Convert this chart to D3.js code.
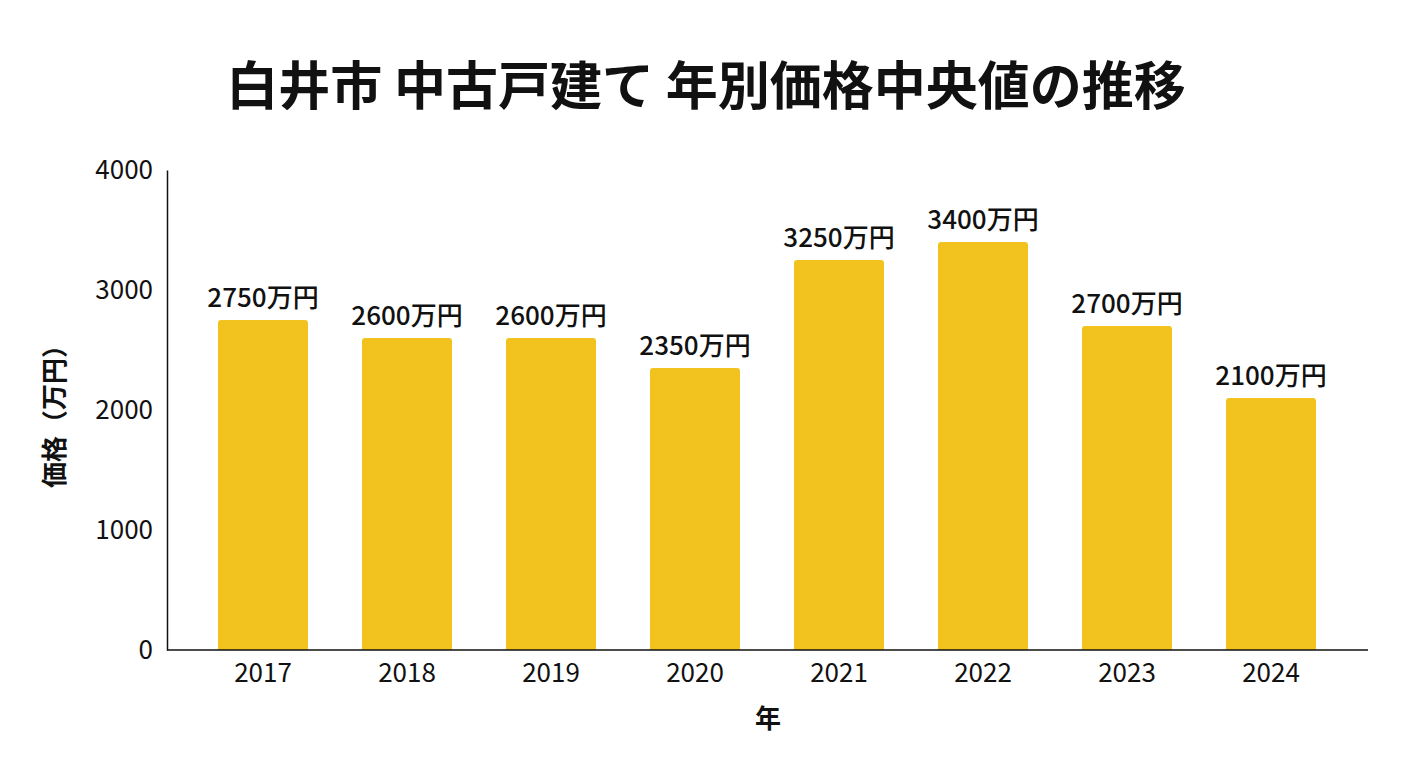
<!DOCTYPE html>
<html>
<head>
<meta charset="utf-8">
<script src="https://cdn.jsdelivr.net/npm/d3@7"></script>
<style>
  body { margin: 0; background: #fff; }
  text { font-family: "Noto Sans CJK JP", "Noto Sans", sans-serif; fill: #111; }
</style>
</head>
<body>
<div id="chart"></div>
<script>
const years = ["2017", "2018", "2019", "2020", "2021", "2022", "2023", "2024"];
const prices = [2750, 2600, 2600, 2350, 3250, 3400, 2700, 2100];
const yTicks = [0, 1000, 2000, 3000, 4000];

const W = 1408, H = 768;
const margin = { top: 170, right: 40, bottom: 118, left: 167 };
const width = W - margin.left - margin.right;
const height = H - margin.top - margin.bottom;

const svg = d3.select("#chart")
  .append("svg")
  .attr("width", W)
  .attr("height", H);

svg.append("text")
  .attr("x", 706)
  .attr("y", 105)
  .attr("text-anchor", "middle")
  .style("font-size", "52px")
  .style("font-weight", "bold")
  .text("白井市 中古戸建て 年別価格中央値の推移");

const g = svg.append("g")
  .attr("transform", "translate(" + margin.left + "," + margin.top + ")");

const x = d3.scaleBand()
  .domain(years)
  .range([24, 24 + 1152])
  .paddingInner(0.375)
  .paddingOuter(0.1875);

const y = d3.scaleLinear()
  .domain([0, 4000])
  .range([height, 0]);

// bars with slightly rounded tops
const r = 3;
g.selectAll("path.bar")
  .data(years.map((d, i) => ({ year: d, value: prices[i] })))
  .enter()
  .append("path")
    .attr("class", "bar")
    .attr("fill", "#F2C31F")
    .attr("d", function(d) {
      const x0 = x(d.year), x1 = x0 + x.bandwidth();
      const y0 = y(d.value), yb = y(0);
      return "M" + x0 + "," + yb +
        "V" + (y0 + r) +
        "Q" + x0 + "," + y0 + " " + (x0 + r) + "," + y0 +
        "H" + (x1 - r) +
        "Q" + x1 + "," + y0 + " " + x1 + "," + (y0 + r) +
        "V" + yb + "Z";
    });

g.selectAll("text.val")
  .data(years.map((d, i) => ({ year: d, value: prices[i] })))
  .enter()
  .append("text")
    .attr("class", "val")
    .attr("x", d => x(d.year) + x.bandwidth() / 2)
    .attr("y", d => y(d.value) - 13)
    .attr("text-anchor", "middle")
    .style("font-size", "26px")
    .style("font-weight", 500)
    .text(d => d.value + "万円");

const xAxis = d3.axisBottom(x).tickSize(0).tickPadding(14);
const xg = g.append("g")
  .attr("transform", "translate(0," + height + ")")
  .call(xAxis);
xg.select(".domain").attr("d", "M0,0H" + (1368 - margin.left)).attr("stroke", "#111").attr("stroke-width", 1.5);
xg.selectAll("text").style("font-size", "26px").attr("fill", "#111");

const yAxis = d3.axisLeft(y).tickValues(yTicks).tickFormat(d3.format("d")).tickSize(0).tickPadding(14);
const yg = g.append("g").call(yAxis);
yg.select(".domain").attr("stroke", "#111").attr("stroke-width", 1.5);
yg.selectAll("text").style("font-size", "26px").attr("fill", "#111");

svg.append("text")
  .attr("transform", "translate(64,410) rotate(-90)")
  .attr("text-anchor", "middle")
  .style("font-size", "26px")
  .style("font-weight", "bold")
  .text("価格（万円）");

svg.append("text")
  .attr("x", 768)
  .attr("y", 728)
  .attr("text-anchor", "middle")
  .style("font-size", "26px")
  .style("font-weight", "bold")
  .text("年");
</script>
</body>
</html>
